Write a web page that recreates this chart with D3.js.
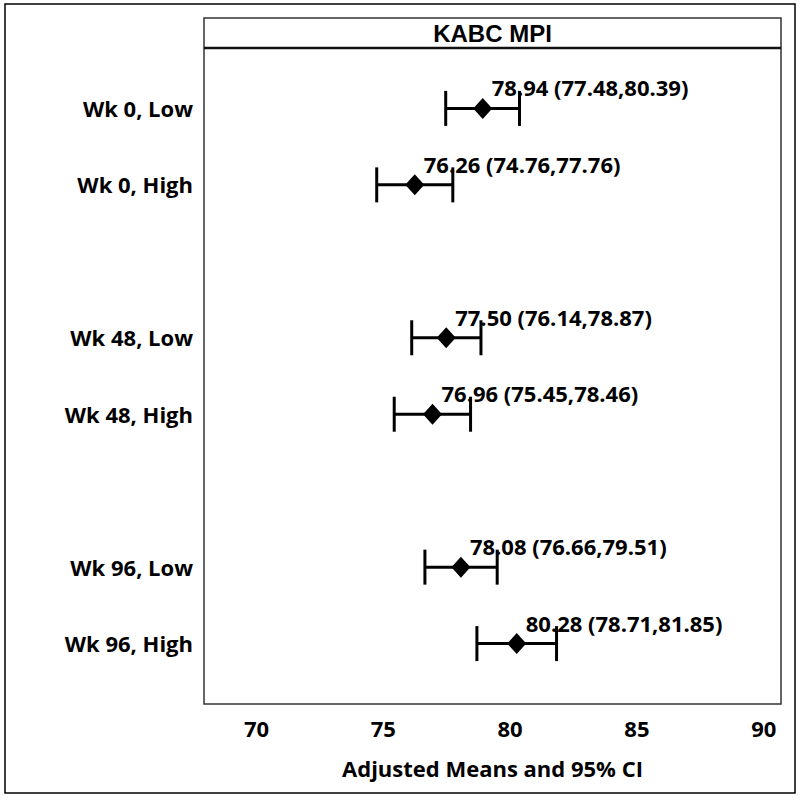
<!DOCTYPE html>
<html>
<head>
<meta charset="utf-8">
<script src="https://cdn.jsdelivr.net/npm/d3@7"></script>
<style>
  html, body { margin: 0; padding: 0; background: #fff; }
  svg { display: block; }
</style>
</head>
<body>
<svg id="chart" width="800" height="799"></svg>
<script>
// ---- data ----
const title = "KABC MPI";
const xTitle = "Adjusted Means and 95% CI";
const slots = ["Wk 0, Low", "Wk 0, High", "gap1", "Wk 48, Low", "Wk 48, High", "gap2", "Wk 96, Low", "Wk 96, High"];
const categories = ["Wk 0, Low", "Wk 0, High", "Wk 48, Low", "Wk 48, High", "Wk 96, Low", "Wk 96, High"];
const means = [78.94, 76.26, 77.50, 76.96, 78.08, 80.28];
const lower = [77.48, 74.76, 76.14, 75.45, 76.66, 78.71];
const upper = [80.39, 77.76, 78.87, 78.46, 79.51, 81.85];
const xTicks = [70, 75, 80, 85, 90];

const rows = categories.map((c, i) => ({ cat: c, mean: means[i], lo: lower[i], hi: upper[i] }));

const svg = d3.select("#chart");
const panel = { left: 204, right: 781, top: 18, header: 48, bottom: 704 };

// outer border
svg.append("rect").attr("x", 5).attr("y", 4).attr("width", 790).attr("height", 789)
  .attr("fill", "none").attr("stroke", "#000").attr("stroke-width", 1.5);

const x = d3.scaleLinear().domain([67.95, 90.7]).range([panel.left, panel.right]);
const y = d3.scalePoint().domain(slots).range([panel.header, panel.bottom]).padding(0.79);

// panel
svg.append("rect").attr("x", panel.left).attr("y", panel.top)
  .attr("width", panel.right - panel.left).attr("height", panel.bottom - panel.top)
  .attr("fill", "none").attr("stroke", "#333").attr("stroke-width", 1.5);
svg.append("line").attr("x1", panel.left).attr("x2", panel.right)
  .attr("y1", panel.header).attr("y2", panel.header)
  .attr("stroke", "#111").attr("stroke-width", 2.5);
svg.append("text").attr("x", (panel.left + panel.right) / 2).attr("y", 42)
  .attr("text-anchor", "middle")
  .style("font-family", "'Liberation Sans', Arial, sans-serif")
  .style("font-weight", "bold").style("font-size", "24px")
  .text(title);

const font = "'Open Sans', 'Noto Sans', sans-serif";

// x axis (labels only)
const xAxis = d3.axisBottom(x).tickValues(xTicks).tickSize(0).tickPadding(0);
const gx = svg.append("g").attr("transform", `translate(0,${panel.bottom})`).call(xAxis);
gx.select(".domain").remove();
gx.selectAll("text").attr("dy", null).attr("y", 33)
  .style("font-family", font).style("font-weight", "bold").style("font-size", "22px").attr("fill", "#000");

svg.append("text").attr("x", (panel.left + panel.right) / 2).attr("y", 777)
  .attr("text-anchor", "middle")
  .style("font-family", font).style("font-weight", "bold").style("font-size", "22px")
  .text(xTitle);

// y axis (labels only)
const yAxis = d3.axisLeft(y).tickValues(categories).tickSize(0).tickPadding(11);
const gy = svg.append("g").attr("transform", `translate(${panel.left},0)`).call(yAxis);
gy.select(".domain").remove();
gy.selectAll("text").attr("dy", "0.36em")
  .style("font-family", font).style("font-weight", "bold").style("font-size", "22px").attr("fill", "#000");

// error bars
const g = svg.append("g");
const capH = 17.5;
rows.forEach(d => {
  const cy = y(d.cat);
  g.append("line").attr("x1", x(d.lo)).attr("x2", x(d.hi)).attr("y1", cy).attr("y2", cy)
    .attr("stroke", "#000").attr("stroke-width", 3);
  [d.lo, d.hi].forEach(v => {
    g.append("line").attr("x1", x(v)).attr("x2", x(v)).attr("y1", cy - capH).attr("y2", cy + capH)
      .attr("stroke", "#000").attr("stroke-width", 3);
  });
  const mx = x(d.mean);
  g.append("path")
    .attr("d", `M${mx},${cy - 10.5}L${mx + 9.5},${cy}L${mx},${cy + 10.5}L${mx - 9.5},${cy}Z`)
    .attr("fill", "#000");
  g.append("text").attr("x", mx + 9).attr("y", cy - 12)
    .style("font-family", font).style("font-weight", "bold").style("font-size", "22px")
    .text(`${d.mean.toFixed(2)} (${d.lo.toFixed(2)},${d.hi.toFixed(2)})`);
});
</script>
</body>
</html>
